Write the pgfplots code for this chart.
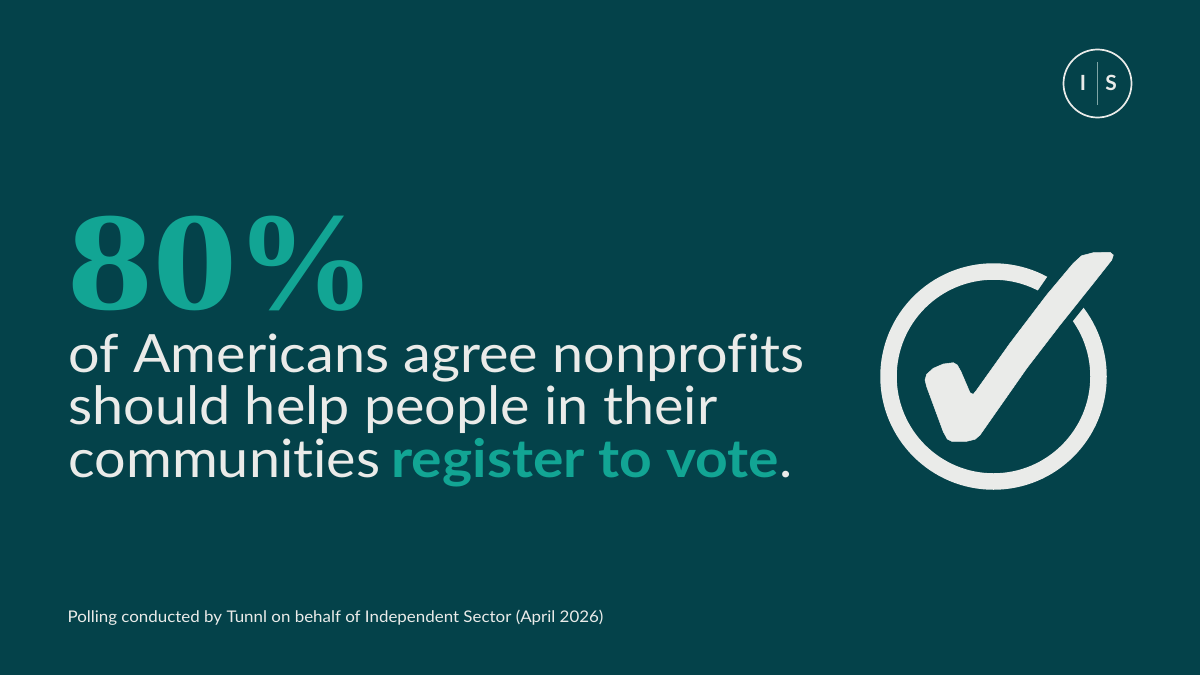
\documentclass[border=0pt]{standalone}
\usepackage{pgfplots}
\pgfplotsset{compat=1.18}
\usepackage{fontspec}
\setmainfont{Lato}[FakeStretch=1.055,Ligatures=NoCommon,BoldFeatures={FakeStretch=1.08}]
\newfontfamily\serifdigits{Liberation Serif Bold}[FakeStretch=1.22]
\newfontfamily\serifpct{Liberation Serif Bold}
\newfontfamily\logofont{Lato Bold}
\definecolor{bg}{HTML}{04424A}
\definecolor{teal}{HTML}{12A594}
\definecolor{ink}{HTML}{EAEBE9}
\definecolor{rule}{HTML}{7FA5A6}
\begin{document}
\begin{tikzpicture}
\begin{axis}[
  scale only axis, width=1200bp, height=675bp,
  xmin=0, xmax=1200, ymin=0, ymax=675, y dir=reverse,
  hide axis, clip=false,
  every node/.append style={inner sep=0pt, outer sep=0pt},
]
\fill[bg] (axis cs:0,0) rectangle (axis cs:1200,675);
% ring
\draw[ink, line width=16.5bp] (axis cs:993.5,376.5) circle[radius=105bp];
% gap in the ring
\addplot[fill=bg, draw=none, forget plot] coordinates {(1059,260) (1096,292) (1064,332) (1030,302)} -- cycle;
% check mark
\addplot[fill=ink, draw=ink, line width=0.5bp, line join=round, forget plot] coordinates {
(1073.3,263.3) (1081.7,255.7) (1093.3,252.7) (1110,252.3) (1113.3,255) (1111.7,260)
(1093.3,283.3) (1060,325) (1026.7,368.3) (980,435) (975,439.3) (966.7,441.3)
(951.7,441.3) (947.3,439) (943.3,431.7) (926.7,386.7) (925,380) (926.7,374.3)
(933.3,368.3) (943.3,364) (953.3,362.7) (957.3,365) (961,371.7) (970,392.7)
(973.3,394.3) (976.7,390) (1010,343.3) (1046.7,295)} -- cycle;
% logo
\draw[ink, line width=1.7bp] (axis cs:1097.5,83.5) circle[radius=34bp];
\addplot[rule, line width=0.9bp, forget plot] coordinates {(1097.5,62) (1097.5,105)};
\node[anchor=base, text=ink] at (axis cs:1083,91) {\fontsize{21}{21}\selectfont\logofont I};
\node[anchor=base, text=ink] at (axis cs:1111,91) {\fontsize{21}{21}\selectfont\logofont S};
% text
\node[anchor=base west, text=teal] at (axis cs:63.5,309) {\fontsize{141}{141}\selectfont\serifdigits 80};
\node[anchor=base west, text=teal] at (axis cs:232,309) {\fontsize{141}{141}\selectfont\serifpct\%};
\node[anchor=base west, text=ink] at (axis cs:65,372) {\fontsize{53}{53}\selectfont of Americans agree nonprofits};
\node[anchor=base west, text=ink] at (axis cs:65,424.5) {\fontsize{53}{53}\selectfont should help people in their};
\node[anchor=base west, text=ink] at (axis cs:65,477) {\fontsize{53}{53}\selectfont communities\kern-3bp{} \textcolor{teal}{\bfseries register to vote}.};
\node[anchor=base west, text=ink] at (axis cs:64,622) {\fontsize{16.1}{16.1}\selectfont Polling conducted by Tunnl on behalf of Independent Sector (April 2026)};
\end{axis}
\end{tikzpicture}
\end{document}
